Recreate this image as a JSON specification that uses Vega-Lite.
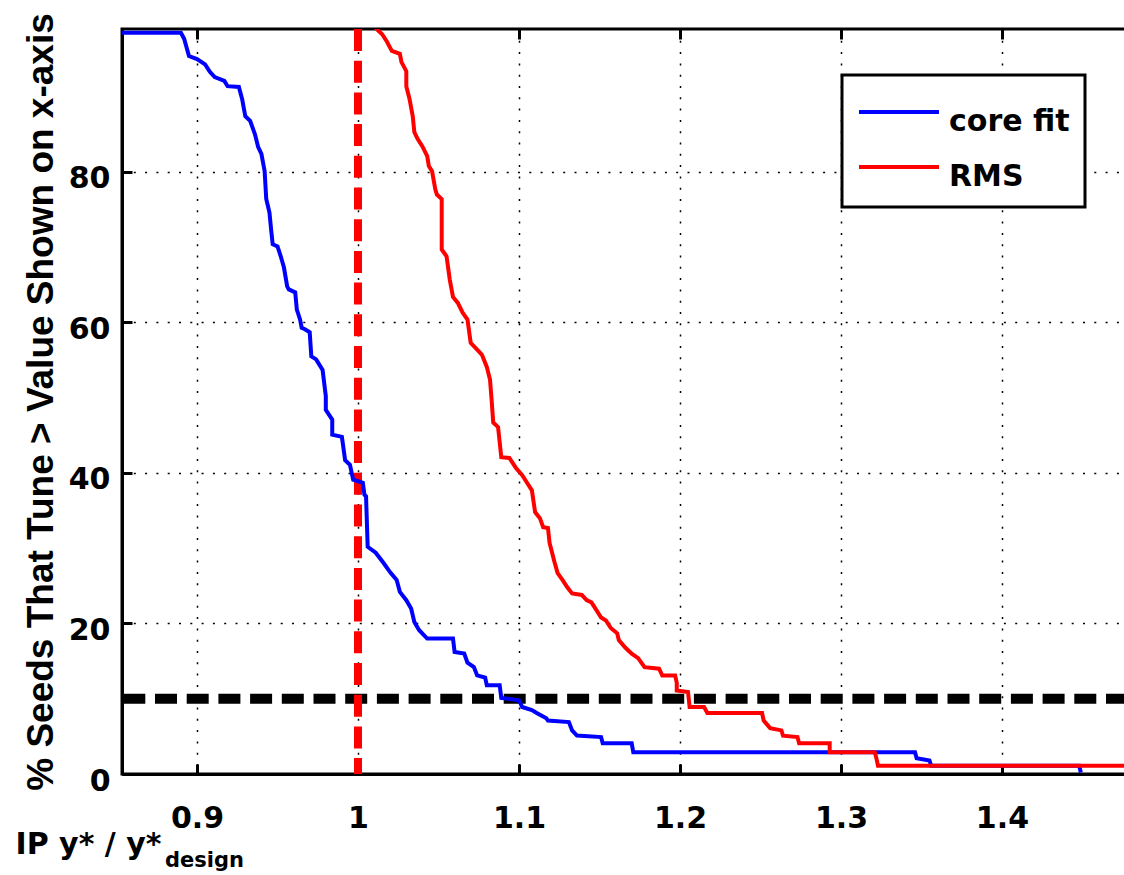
{
  "$schema": "https://vega.github.io/schema/vega-lite/v6.json",
  "width": 1006,
  "height": 745,
  "autosize": {"type": "none"},
  "padding": {"left": 122, "top": 29, "right": -4, "bottom": 101},
  "background": "white",
  "config": {"view": {"stroke": "black", "strokeWidth": 3}, "font": "DejaVu Sans", "legend": {"strokeWidth": 3}},
  "title": {"text": "design", "orient": "bottom", "anchor": "start", "frame": "group", "offset": -9, "dx": 43, "font": "DejaVu Sans", "fontWeight": "bold", "fontSize": 21, "color": "black"},
  "datasets": {
    "curves": [
      {"method": "core fit", "ratio": 0.853, "pct": 98.5},
      {"method": "core fit", "ratio": 0.890, "pct": 98.5},
      {"method": "core fit", "ratio": 0.892, "pct": 97.7},
      {"method": "core fit", "ratio": 0.895, "pct": 95.4},
      {"method": "core fit", "ratio": 0.900, "pct": 95.0},
      {"method": "core fit", "ratio": 0.905, "pct": 94.3},
      {"method": "core fit", "ratio": 0.908, "pct": 93.3},
      {"method": "core fit", "ratio": 0.911, "pct": 92.6},
      {"method": "core fit", "ratio": 0.917, "pct": 92.1},
      {"method": "core fit", "ratio": 0.919, "pct": 91.4},
      {"method": "core fit", "ratio": 0.926, "pct": 91.3},
      {"method": "core fit", "ratio": 0.928, "pct": 89.7},
      {"method": "core fit", "ratio": 0.930, "pct": 87.4},
      {"method": "core fit", "ratio": 0.933, "pct": 86.8},
      {"method": "core fit", "ratio": 0.936, "pct": 85.0},
      {"method": "core fit", "ratio": 0.938, "pct": 83.3},
      {"method": "core fit", "ratio": 0.940, "pct": 82.4},
      {"method": "core fit", "ratio": 0.942, "pct": 80.1},
      {"method": "core fit", "ratio": 0.943, "pct": 76.4},
      {"method": "core fit", "ratio": 0.945, "pct": 74.6},
      {"method": "core fit", "ratio": 0.946, "pct": 72.4},
      {"method": "core fit", "ratio": 0.947, "pct": 70.4},
      {"method": "core fit", "ratio": 0.950, "pct": 70.1},
      {"method": "core fit", "ratio": 0.952, "pct": 68.8},
      {"method": "core fit", "ratio": 0.954, "pct": 67.3},
      {"method": "core fit", "ratio": 0.956, "pct": 64.8},
      {"method": "core fit", "ratio": 0.957, "pct": 64.4},
      {"method": "core fit", "ratio": 0.961, "pct": 64.0},
      {"method": "core fit", "ratio": 0.962, "pct": 61.7},
      {"method": "core fit", "ratio": 0.964, "pct": 60.4},
      {"method": "core fit", "ratio": 0.965, "pct": 59.3},
      {"method": "core fit", "ratio": 0.967, "pct": 59.1},
      {"method": "core fit", "ratio": 0.970, "pct": 58.7},
      {"method": "core fit", "ratio": 0.971, "pct": 55.5},
      {"method": "core fit", "ratio": 0.974, "pct": 55.1},
      {"method": "core fit", "ratio": 0.978, "pct": 53.7},
      {"method": "core fit", "ratio": 0.980, "pct": 50.2},
      {"method": "core fit", "ratio": 0.980, "pct": 48.4},
      {"method": "core fit", "ratio": 0.984, "pct": 47.1},
      {"method": "core fit", "ratio": 0.984, "pct": 45.1},
      {"method": "core fit", "ratio": 0.990, "pct": 44.8},
      {"method": "core fit", "ratio": 0.992, "pct": 41.7},
      {"method": "core fit", "ratio": 0.995, "pct": 41.1},
      {"method": "core fit", "ratio": 0.997, "pct": 39.1},
      {"method": "core fit", "ratio": 1.003, "pct": 38.7},
      {"method": "core fit", "ratio": 1.004, "pct": 37.1},
      {"method": "core fit", "ratio": 1.005, "pct": 36.9},
      {"method": "core fit", "ratio": 1.006, "pct": 30.2},
      {"method": "core fit", "ratio": 1.011, "pct": 29.4},
      {"method": "core fit", "ratio": 1.016, "pct": 28.0},
      {"method": "core fit", "ratio": 1.020, "pct": 26.8},
      {"method": "core fit", "ratio": 1.024, "pct": 25.8},
      {"method": "core fit", "ratio": 1.026, "pct": 24.2},
      {"method": "core fit", "ratio": 1.030, "pct": 23.1},
      {"method": "core fit", "ratio": 1.033, "pct": 22.0},
      {"method": "core fit", "ratio": 1.035, "pct": 20.2},
      {"method": "core fit", "ratio": 1.038, "pct": 19.1},
      {"method": "core fit", "ratio": 1.043, "pct": 18.0},
      {"method": "core fit", "ratio": 1.059, "pct": 18.0},
      {"method": "core fit", "ratio": 1.060, "pct": 16.2},
      {"method": "core fit", "ratio": 1.066, "pct": 16.0},
      {"method": "core fit", "ratio": 1.068, "pct": 14.8},
      {"method": "core fit", "ratio": 1.072, "pct": 14.2},
      {"method": "core fit", "ratio": 1.074, "pct": 13.1},
      {"method": "core fit", "ratio": 1.079, "pct": 12.8},
      {"method": "core fit", "ratio": 1.080, "pct": 11.8},
      {"method": "core fit", "ratio": 1.088, "pct": 11.8},
      {"method": "core fit", "ratio": 1.089, "pct": 10.1},
      {"method": "core fit", "ratio": 1.100, "pct": 9.8},
      {"method": "core fit", "ratio": 1.102, "pct": 8.9},
      {"method": "core fit", "ratio": 1.108, "pct": 8.5},
      {"method": "core fit", "ratio": 1.111, "pct": 8.1},
      {"method": "core fit", "ratio": 1.117, "pct": 7.4},
      {"method": "core fit", "ratio": 1.118, "pct": 7.1},
      {"method": "core fit", "ratio": 1.131, "pct": 6.9},
      {"method": "core fit", "ratio": 1.133, "pct": 5.8},
      {"method": "core fit", "ratio": 1.136, "pct": 5.1},
      {"method": "core fit", "ratio": 1.151, "pct": 4.9},
      {"method": "core fit", "ratio": 1.152, "pct": 4.1},
      {"method": "core fit", "ratio": 1.170, "pct": 4.1},
      {"method": "core fit", "ratio": 1.171, "pct": 2.9},
      {"method": "core fit", "ratio": 1.346, "pct": 2.9},
      {"method": "core fit", "ratio": 1.347, "pct": 2.1},
      {"method": "core fit", "ratio": 1.355, "pct": 1.8},
      {"method": "core fit", "ratio": 1.356, "pct": 1.1},
      {"method": "core fit", "ratio": 1.448, "pct": 1.1},
      {"method": "core fit", "ratio": 1.449, "pct": 0.2},
      {"method": "RMS", "ratio": 1.008, "pct": 100},
      {"method": "RMS", "ratio": 1.0115, "pct": 99.0},
      {"method": "RMS", "ratio": 1.015, "pct": 98.3},
      {"method": "RMS", "ratio": 1.018, "pct": 97.3},
      {"method": "RMS", "ratio": 1.021, "pct": 96.1},
      {"method": "RMS", "ratio": 1.026, "pct": 95.7},
      {"method": "RMS", "ratio": 1.027, "pct": 94.6},
      {"method": "RMS", "ratio": 1.030, "pct": 93.4},
      {"method": "RMS", "ratio": 1.030, "pct": 91.4},
      {"method": "RMS", "ratio": 1.032, "pct": 89.7},
      {"method": "RMS", "ratio": 1.034, "pct": 87.4},
      {"method": "RMS", "ratio": 1.035, "pct": 85.3},
      {"method": "RMS", "ratio": 1.037, "pct": 84.4},
      {"method": "RMS", "ratio": 1.040, "pct": 83.4},
      {"method": "RMS", "ratio": 1.043, "pct": 82.1},
      {"method": "RMS", "ratio": 1.044, "pct": 80.8},
      {"method": "RMS", "ratio": 1.046, "pct": 80.1},
      {"method": "RMS", "ratio": 1.048, "pct": 77.7},
      {"method": "RMS", "ratio": 1.049, "pct": 77.0},
      {"method": "RMS", "ratio": 1.052, "pct": 76.4},
      {"method": "RMS", "ratio": 1.052, "pct": 69.7},
      {"method": "RMS", "ratio": 1.055, "pct": 68.8},
      {"method": "RMS", "ratio": 1.057, "pct": 65.7},
      {"method": "RMS", "ratio": 1.059, "pct": 63.4},
      {"method": "RMS", "ratio": 1.062, "pct": 62.6},
      {"method": "RMS", "ratio": 1.065, "pct": 61.3},
      {"method": "RMS", "ratio": 1.068, "pct": 60.4},
      {"method": "RMS", "ratio": 1.070, "pct": 57.3},
      {"method": "RMS", "ratio": 1.074, "pct": 56.4},
      {"method": "RMS", "ratio": 1.077, "pct": 55.7},
      {"method": "RMS", "ratio": 1.080, "pct": 54.1},
      {"method": "RMS", "ratio": 1.082, "pct": 52.4},
      {"method": "RMS", "ratio": 1.083, "pct": 49.7},
      {"method": "RMS", "ratio": 1.084, "pct": 46.7},
      {"method": "RMS", "ratio": 1.087, "pct": 46.1},
      {"method": "RMS", "ratio": 1.089, "pct": 42.1},
      {"method": "RMS", "ratio": 1.094, "pct": 42.0},
      {"method": "RMS", "ratio": 1.098, "pct": 40.7},
      {"method": "RMS", "ratio": 1.102, "pct": 39.7},
      {"method": "RMS", "ratio": 1.105, "pct": 38.7},
      {"method": "RMS", "ratio": 1.108, "pct": 37.7},
      {"method": "RMS", "ratio": 1.110, "pct": 34.8},
      {"method": "RMS", "ratio": 1.113, "pct": 34.0},
      {"method": "RMS", "ratio": 1.115, "pct": 32.8},
      {"method": "RMS", "ratio": 1.118, "pct": 32.7},
      {"method": "RMS", "ratio": 1.119, "pct": 30.7},
      {"method": "RMS", "ratio": 1.122, "pct": 28.2},
      {"method": "RMS", "ratio": 1.124, "pct": 26.7},
      {"method": "RMS", "ratio": 1.127, "pct": 25.8},
      {"method": "RMS", "ratio": 1.130, "pct": 24.8},
      {"method": "RMS", "ratio": 1.133, "pct": 24.0},
      {"method": "RMS", "ratio": 1.139, "pct": 23.8},
      {"method": "RMS", "ratio": 1.142, "pct": 23.1},
      {"method": "RMS", "ratio": 1.145, "pct": 22.8},
      {"method": "RMS", "ratio": 1.148, "pct": 21.8},
      {"method": "RMS", "ratio": 1.151, "pct": 20.8},
      {"method": "RMS", "ratio": 1.154, "pct": 20.4},
      {"method": "RMS", "ratio": 1.157, "pct": 19.4},
      {"method": "RMS", "ratio": 1.161, "pct": 18.7},
      {"method": "RMS", "ratio": 1.162, "pct": 17.8},
      {"method": "RMS", "ratio": 1.166, "pct": 16.8},
      {"method": "RMS", "ratio": 1.170, "pct": 16.0},
      {"method": "RMS", "ratio": 1.174, "pct": 15.4},
      {"method": "RMS", "ratio": 1.178, "pct": 14.2},
      {"method": "RMS", "ratio": 1.187, "pct": 14.0},
      {"method": "RMS", "ratio": 1.189, "pct": 13.1},
      {"method": "RMS", "ratio": 1.197, "pct": 13.1},
      {"method": "RMS", "ratio": 1.198, "pct": 12.1},
      {"method": "RMS", "ratio": 1.198, "pct": 11.1},
      {"method": "RMS", "ratio": 1.205, "pct": 10.9},
      {"method": "RMS", "ratio": 1.206, "pct": 8.9},
      {"method": "RMS", "ratio": 1.215, "pct": 8.9},
      {"method": "RMS", "ratio": 1.217, "pct": 8.1},
      {"method": "RMS", "ratio": 1.251, "pct": 8.1},
      {"method": "RMS", "ratio": 1.252, "pct": 7.1},
      {"method": "RMS", "ratio": 1.256, "pct": 6.1},
      {"method": "RMS", "ratio": 1.263, "pct": 5.8},
      {"method": "RMS", "ratio": 1.264, "pct": 5.1},
      {"method": "RMS", "ratio": 1.273, "pct": 4.9},
      {"method": "RMS", "ratio": 1.274, "pct": 4.1},
      {"method": "RMS", "ratio": 1.293, "pct": 4.1},
      {"method": "RMS", "ratio": 1.293, "pct": 2.9},
      {"method": "RMS", "ratio": 1.321, "pct": 2.9},
      {"method": "RMS", "ratio": 1.322, "pct": 2.1},
      {"method": "RMS", "ratio": 1.323, "pct": 1.1},
      {"method": "RMS", "ratio": 1.48, "pct": 1.1}
    ]
  },
  "layer": [
    {
      "data": {"values": [{"threshold": 10}]},
      "mark": {"type": "rule", "color": "black", "strokeWidth": 10, "strokeDash": [22, 9.7]},
      "encoding": {
        "y": {"field": "threshold", "type": "quantitative"}
      }
    },
    {
      "data": {"values": [{"design": 1}]},
      "mark": {"type": "rule", "color": "#ff0000", "strokeWidth": 8, "strokeDash": [22, 9.7]},
      "encoding": {
        "x": {"field": "design", "type": "quantitative",
          "axis": {"orient": "top", "labels": false, "title": null, "grid": false, "tickSize": 10, "tickWidth": 3, "tickColor": "black", "domain": false, "values": [0.9, 1, 1.1, 1.2, 1.3, 1.4], "offset": -10}}
      }
    },
    {
      "data": {"name": "curves"},
      "mark": {"type": "line", "strokeWidth": 4, "clip": true, "interpolate": "linear"},
      "encoding": {
        "x": {"field": "ratio", "type": "quantitative",
          "scale": {"domain": [0.8534, 1.4783], "nice": false, "zero": false},
          "axis": {"orient": "bottom", "values": [0.9, 1, 1.1, 1.2, 1.3, 1.4], "format": "~g",
            "labelFont": "DejaVu Sans", "labelFontWeight": "bold", "labelFontSize": 30, "labelColor": "black",
            "labelPadding": 39, "labelFlush": false, "labelOverlap": false,
            "tickSize": -10, "tickWidth": 3, "tickColor": "black", "domainWidth": 3, "domainColor": "black",
            "grid": true, "gridDash": [2, 9.3], "gridColor": "black", "gridWidth": 1.5,
            "title": "IP y* / y*", "titleFont": "DejaVu Sans", "titleFontWeight": "bold", "titleFontSize": 30, "titleColor": "black",
            "titleX": -107, "titleY": 79, "titleAlign": "left", "titleBaseline": "alphabetic", "titleAngle": 0}},
        "y": {"field": "pct", "type": "quantitative",
          "scale": {"domain": [0, 99], "nice": false, "zero": false},
          "axis": {"values": [0, 20, 40, 60, 80],
            "labelFont": "DejaVu Sans", "labelFontWeight": "bold", "labelFontSize": 30, "labelColor": "black",
            "labelPadding": 22, "labelOffset": 7, "labelBaseline": "middle", "labelFlush": false, "labelOverlap": false,
            "tickSize": -10, "tickWidth": 3, "tickColor": "black", "domainWidth": 3, "domainColor": "black",
            "grid": true, "gridDash": [2, 9.3], "gridColor": "black", "gridWidth": 1.5,
            "title": "% Seeds That Tune > Value Shown on x-axis", "titleFont": "Liberation Sans", "titleFontWeight": "bold", "titleFontSize": 37, "titleColor": "black",
            "titleX": -70, "titleY": 372.5, "titleAlign": "center", "titleBaseline": "alphabetic", "titleAngle": 270}},
        "color": {"field": "method", "type": "nominal",
          "scale": {"domain": ["core fit", "RMS"], "range": ["#0000ff", "#ff0000"]},
          "legend": {"orient": "none", "legendX": 720, "legendY": 46,
            "title": " ", "titleFontSize": 1, "titlePadding": 9,
            "symbolType": "M-1,-0.5H3", "symbolSize": 1600, "symbolStrokeWidth": 4, "symbolOpacity": 1,
            "labelOffset": 48, "labelFont": "DejaVu Sans", "labelFontWeight": "bold", "labelFontSize": 30, "labelColor": "black", "labelBaseline": "middle", "labelLimit": 400,
            "padding": 15, "rowPadding": 18, "strokeColor": "black", "fillColor": "white"}},
        "order": {"value": null}
      }
    }
  ],
  "resolve": {"axis": {"x": "independent"}}
}
